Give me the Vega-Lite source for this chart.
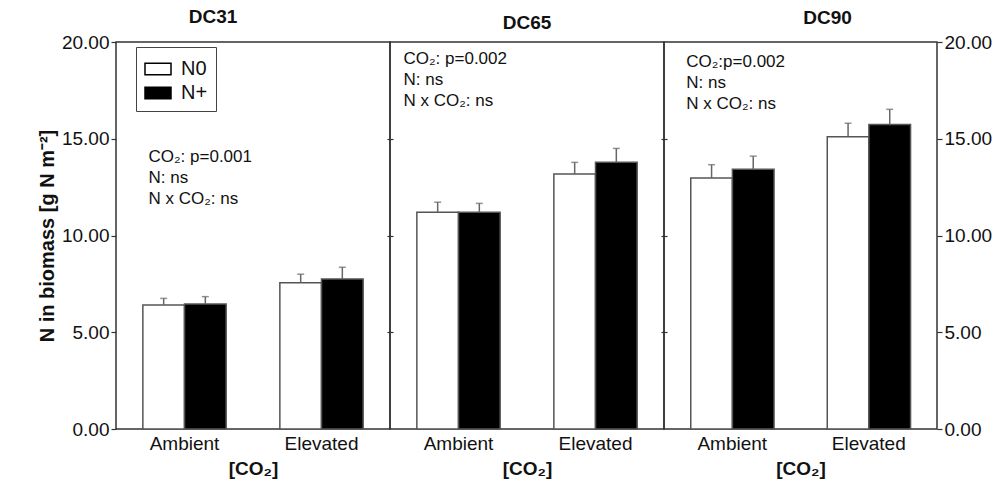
{
  "$schema": "https://vega.github.io/schema/vega-lite/v6.json",
  "padding": {"left": 36, "top": 7, "right": 5, "bottom": 5},
  "bounds": "flush",
  "spacing": 0,
  "config": {
    "font": "Liberation Sans",
    "view": {"stroke": "#333", "strokeWidth": 1.5},
    "axis": {"grid": false, "domain": false, "tickColor": "#333", "tickWidth": 1.2, "labelColor": "#111", "titleColor": "#111", "labelFont": "Liberation Sans", "titleFont": "Liberation Sans"},
    "axisX": {"title": "[CO₂]", "labelAngle": 0, "ticks": false, "labelFontSize": 19, "labelPadding": 5, "titleFontSize": 19, "titleFontWeight": "bold", "titlePadding": 6},
    "title": {"font": "Liberation Sans", "fontSize": 19, "fontWeight": "bold", "color": "#111"}
  },
  "datasets": {
    "bars": [
      {"stage": "DC31", "co2": "Ambient", "n": "N0", "value": 6.41, "upper": 6.75},
      {"stage": "DC31", "co2": "Ambient", "n": "N+", "value": 6.46, "upper": 6.84},
      {"stage": "DC31", "co2": "Elevated", "n": "N0", "value": 7.56, "upper": 8.0},
      {"stage": "DC31", "co2": "Elevated", "n": "N+", "value": 7.75, "upper": 8.36},
      {"stage": "DC65", "co2": "Ambient", "n": "N0", "value": 11.2, "upper": 11.72},
      {"stage": "DC65", "co2": "Ambient", "n": "N+", "value": 11.2, "upper": 11.66},
      {"stage": "DC65", "co2": "Elevated", "n": "N0", "value": 13.18, "upper": 13.78},
      {"stage": "DC65", "co2": "Elevated", "n": "N+", "value": 13.78, "upper": 14.5},
      {"stage": "DC90", "co2": "Ambient", "n": "N0", "value": 12.97, "upper": 13.66},
      {"stage": "DC90", "co2": "Ambient", "n": "N+", "value": 13.42, "upper": 14.1},
      {"stage": "DC90", "co2": "Elevated", "n": "N0", "value": 15.1, "upper": 15.8},
      {"stage": "DC90", "co2": "Elevated", "n": "N+", "value": 15.73, "upper": 16.52}
    ],
    "notes": [
      {"stage": "DC31", "co2": "Ambient", "y": 13.82, "label": "CO₂: p=0.001\nN: ns\nN x CO₂: ns"},
      {"stage": "DC65", "co2": "Ambient", "y": 18.85, "label": "CO₂: p=0.002\nN: ns\nN x CO₂: ns"},
      {"stage": "DC90", "co2": "Ambient", "y": 18.73, "label": "CO₂:p=0.002\nN: ns\nN x CO₂: ns"}
    ]
  },
  "hconcat": [
    {
      "width": 274, "height": 387,
      "title": {"text": "DC31", "dx": -40, "offset": 6},
      "resolve": {"axis": {"y": "independent"}},
      "layer": [
        {
          "data": {"name": "bars"},
          "transform": [{"filter": "datum.stage == 'DC31'"}],
          "mark": {"type": "bar", "stroke": "#555", "strokeWidth": 1.5},
          "encoding": {
            "x": {"field": "co2", "type": "nominal", "scale": {"domain": ["Ambient", "Elevated"], "paddingInner": 0.392, "paddingOuter": 0.196}, "axis": {"title": "[CO₂]"}},
            "xOffset": {"field": "n", "type": "nominal", "scale": {"domain": ["N0", "N+"], "paddingInner": 0, "paddingOuter": 0}},
            "y": {"field": "value", "type": "quantitative", "scale": {"domain": [0, 20], "nice": false}, "axis": {"orient": "left", "values": [0, 5, 10, 15, 20], "format": ".2f", "labelFontSize": 19, "tickSize": 5, "labelPadding": 2, "title": "N in biomass [g N m⁻²]", "titleFontSize": 20, "titleFontWeight": "bold", "titlePadding": 4}},
            "fill": {"field": "n", "type": "nominal", "scale": {"domain": ["N0", "N+"], "range": ["white", "black"]}, "legend": {"orient": "none", "legendX": 20, "legendY": 5, "title": null, "strokeColor": "#444", "padding": 8, "rowPadding": -4, "symbolType": "M-1,-0.45H1V0.45H-1Z", "symbolSize": 676, "symbolStrokeColor": "black", "symbolStrokeWidth": 1.5, "labelFontSize": 20, "labelOffset": 9, "labelColor": "#111", "labelFont": "Liberation Sans"}}
          }
        },
        {
          "data": {"name": "bars"},
          "transform": [{"filter": "datum.stage == 'DC31'"}],
          "mark": {"type": "rule", "color": "#666", "strokeWidth": 1.5},
          "encoding": {
            "x": {"field": "co2", "type": "nominal", "axis": {"title": "[CO₂]"}},
            "xOffset": {"field": "n", "type": "nominal"},
            "y": {"field": "value", "type": "quantitative", "axis": {"orient": "right", "values": [5, 10, 15], "labels": false, "tickSize": 3, "title": null}},
            "y2": {"field": "upper"}
          }
        },
        {
          "data": {"name": "bars"},
          "transform": [{"filter": "datum.stage == 'DC31'"}],
          "mark": {"type": "tick", "color": "#666", "size": 7, "thickness": 1.5, "orient": "horizontal"},
          "encoding": {
            "x": {"field": "co2", "type": "nominal", "axis": {"title": "[CO₂]"}},
            "xOffset": {"field": "n", "type": "nominal"},
            "y": {"field": "upper", "type": "quantitative", "axis": null}
          }
        },
        {
          "data": {"name": "notes"},
          "transform": [{"filter": "datum.stage == 'DC31'"}],
          "mark": {"type": "text", "align": "left", "baseline": "alphabetic", "fontSize": 17, "lineHeight": 21, "lineBreak": "\n", "dx": -36, "color": "#111"},
          "encoding": {
            "x": {"field": "co2", "type": "nominal", "axis": {"title": "[CO₂]"}},
            "y": {"field": "y", "type": "quantitative", "axis": null},
            "text": {"field": "label"}
          }
        }
      ]
    },
    {
      "width": 274, "height": 387,
      "title": {"text": "DC65", "dx": 0, "offset": 9},
      "resolve": {"axis": {"y": "independent"}},
      "layer": [
        {
          "data": {"name": "bars"},
          "transform": [{"filter": "datum.stage == 'DC65'"}],
          "mark": {"type": "bar", "stroke": "#555", "strokeWidth": 1.5},
          "encoding": {
            "x": {"field": "co2", "type": "nominal", "scale": {"domain": ["Ambient", "Elevated"], "paddingInner": 0.392, "paddingOuter": 0.196}, "axis": {"title": "[CO₂]"}},
            "xOffset": {"field": "n", "type": "nominal", "scale": {"domain": ["N0", "N+"], "paddingInner": 0, "paddingOuter": 0}},
            "y": {"field": "value", "type": "quantitative", "scale": {"domain": [0, 20], "nice": false}, "axis": {"orient": "left", "values": [5, 10, 15], "labels": false, "tickSize": 3, "title": null}},
            "fill": {"field": "n", "type": "nominal", "scale": {"domain": ["N0", "N+"], "range": ["white", "black"]}, "legend": null}
          }
        },
        {
          "data": {"name": "bars"},
          "transform": [{"filter": "datum.stage == 'DC65'"}],
          "mark": {"type": "rule", "color": "#666", "strokeWidth": 1.5},
          "encoding": {
            "x": {"field": "co2", "type": "nominal", "axis": {"title": "[CO₂]"}},
            "xOffset": {"field": "n", "type": "nominal"},
            "y": {"field": "value", "type": "quantitative", "axis": {"orient": "right", "values": [5, 10, 15], "labels": false, "tickSize": 3, "title": null}},
            "y2": {"field": "upper"}
          }
        },
        {
          "data": {"name": "bars"},
          "transform": [{"filter": "datum.stage == 'DC65'"}],
          "mark": {"type": "tick", "color": "#666", "size": 7, "thickness": 1.5, "orient": "horizontal"},
          "encoding": {
            "x": {"field": "co2", "type": "nominal", "axis": {"title": "[CO₂]"}},
            "xOffset": {"field": "n", "type": "nominal"},
            "y": {"field": "upper", "type": "quantitative", "axis": null}
          }
        },
        {
          "data": {"name": "notes"},
          "transform": [{"filter": "datum.stage == 'DC65'"}],
          "mark": {"type": "text", "align": "left", "baseline": "alphabetic", "fontSize": 17, "lineHeight": 21, "lineBreak": "\n", "dx": -55, "color": "#111"},
          "encoding": {
            "x": {"field": "co2", "type": "nominal", "axis": {"title": "[CO₂]"}},
            "y": {"field": "y", "type": "quantitative", "axis": null},
            "text": {"field": "label"}
          }
        }
      ]
    },
    {
      "width": 273, "height": 387,
      "title": {"text": "DC90", "dx": 27, "offset": 5},
      "resolve": {"axis": {"y": "independent"}},
      "layer": [
        {
          "data": {"name": "bars"},
          "transform": [{"filter": "datum.stage == 'DC90'"}],
          "mark": {"type": "bar", "stroke": "#555", "strokeWidth": 1.5},
          "encoding": {
            "x": {"field": "co2", "type": "nominal", "scale": {"domain": ["Ambient", "Elevated"], "paddingInner": 0.392, "paddingOuter": 0.196}, "axis": {"title": "[CO₂]"}},
            "xOffset": {"field": "n", "type": "nominal", "scale": {"domain": ["N0", "N+"], "paddingInner": 0, "paddingOuter": 0}},
            "y": {"field": "value", "type": "quantitative", "scale": {"domain": [0, 20], "nice": false}, "axis": {"orient": "left", "values": [5, 10, 15], "labels": false, "tickSize": 3, "title": null}},
            "fill": {"field": "n", "type": "nominal", "scale": {"domain": ["N0", "N+"], "range": ["white", "black"]}, "legend": null}
          }
        },
        {
          "data": {"name": "bars"},
          "transform": [{"filter": "datum.stage == 'DC90'"}],
          "mark": {"type": "rule", "color": "#666", "strokeWidth": 1.5},
          "encoding": {
            "x": {"field": "co2", "type": "nominal", "axis": {"title": "[CO₂]"}},
            "xOffset": {"field": "n", "type": "nominal"},
            "y": {"field": "value", "type": "quantitative", "axis": {"orient": "right", "values": [0, 5, 10, 15, 20], "format": ".2f", "labelFontSize": 19, "tickSize": 5, "labelPadding": 2, "title": null}},
            "y2": {"field": "upper"}
          }
        },
        {
          "data": {"name": "bars"},
          "transform": [{"filter": "datum.stage == 'DC90'"}],
          "mark": {"type": "tick", "color": "#666", "size": 7, "thickness": 1.5, "orient": "horizontal"},
          "encoding": {
            "x": {"field": "co2", "type": "nominal", "axis": {"title": "[CO₂]"}},
            "xOffset": {"field": "n", "type": "nominal"},
            "y": {"field": "upper", "type": "quantitative", "axis": null}
          }
        },
        {
          "data": {"name": "notes"},
          "transform": [{"filter": "datum.stage == 'DC90'"}],
          "mark": {"type": "text", "align": "left", "baseline": "alphabetic", "fontSize": 17, "lineHeight": 21, "lineBreak": "\n", "dx": -46, "color": "#111"},
          "encoding": {
            "x": {"field": "co2", "type": "nominal", "axis": {"title": "[CO₂]"}},
            "y": {"field": "y", "type": "quantitative", "axis": null},
            "text": {"field": "label"}
          }
        }
      ]
    }
  ]
}
